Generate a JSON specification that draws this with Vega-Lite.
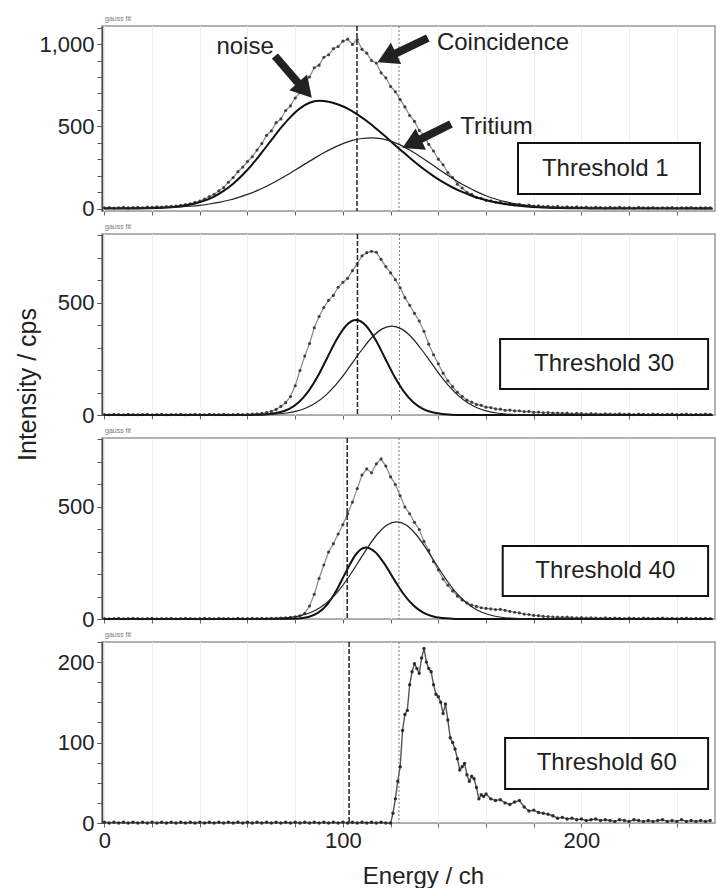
{
"$schema":"https://vega.github.io/schema/vega-lite/v6.json",
"padding":{"left":14,"top":14,"right":0,"bottom":2},
"bounds":"flush",
"spacing":23,
"config":{"font":"Liberation Sans","view":{"stroke":"#999","strokeWidth":1.5},
"axis":{"labelFontSize":22,"labelColor":"#222","tickColor":"#555","domainColor":"#444","titleFontWeight":"normal","titleColor":"#222","labelFlush":false,"labelOverlap":false},
"title":{"fontSize":7,"fontWeight":"normal","color":"#777","anchor":"start","frame":"group","offset":3,"dx":3}},
"datasets":{
"p1":[
{"s":"d","x":0,"y":4},{"s":"d","x":2,"y":6},{"s":"d","x":4,"y":3},{"s":"d","x":6,"y":5},{"s":"d","x":8,"y":7},{"s":"d","x":10,"y":4},{"s":"d","x":12,"y":6},{"s":"d","x":14,"y":8},{"s":"d","x":16,"y":5},{"s":"d","x":18,"y":9},{"s":"d","x":20,"y":7},{"s":"d","x":22,"y":10},{"s":"d","x":24,"y":9},{"s":"d","x":26,"y":12},{"s":"d","x":28,"y":14},{"s":"d","x":30,"y":15},{"s":"d","x":32,"y":19},{"s":"d","x":34,"y":24},{"s":"d","x":36,"y":29},{"s":"d","x":38,"y":37},{"s":"d","x":40,"y":46},{"s":"d","x":42,"y":57},{"s":"d","x":44,"y":73},{"s":"d","x":46,"y":87},{"s":"d","x":48,"y":108},{"s":"d","x":50,"y":127},{"s":"d","x":52,"y":160},{"s":"d","x":54,"y":188},{"s":"d","x":56,"y":224},{"s":"d","x":58,"y":252},{"s":"d","x":60,"y":286},{"s":"d","x":62,"y":315},{"s":"d","x":64,"y":356},{"s":"d","x":66,"y":395},{"s":"d","x":68,"y":445},{"s":"d","x":70,"y":472},{"s":"d","x":72,"y":522},{"s":"d","x":74,"y":545},{"s":"d","x":76,"y":596},{"s":"d","x":78,"y":624},{"s":"d","x":80,"y":672},{"s":"d","x":82,"y":705},{"s":"d","x":84,"y":768},{"s":"d","x":86,"y":800},{"s":"d","x":88,"y":856},{"s":"d","x":90,"y":872},{"s":"d","x":92,"y":920},{"s":"d","x":94,"y":935},{"s":"d","x":96,"y":972},{"s":"d","x":98,"y":985},{"s":"d","x":100,"y":1018},{"s":"d","x":102,"y":1030},{"s":"d","x":104,"y":998},{"s":"d","x":106,"y":1028},{"s":"d","x":108,"y":968},{"s":"d","x":110,"y":945},{"s":"d","x":112,"y":900},{"s":"d","x":114,"y":885},{"s":"d","x":116,"y":825},{"s":"d","x":118,"y":795},{"s":"d","x":120,"y":742},{"s":"d","x":122,"y":710},{"s":"d","x":124,"y":662},{"s":"d","x":126,"y":618},{"s":"d","x":128,"y":566},{"s":"d","x":130,"y":530},{"s":"d","x":132,"y":475},{"s":"d","x":134,"y":445},{"s":"d","x":136,"y":390},{"s":"d","x":138,"y":350},{"s":"d","x":140,"y":300},{"s":"d","x":142,"y":266},{"s":"d","x":144,"y":218},{"s":"d","x":146,"y":188},{"s":"d","x":148,"y":148},{"s":"d","x":150,"y":125},{"s":"d","x":152,"y":98},{"s":"d","x":154,"y":86},{"s":"d","x":156,"y":68},{"s":"d","x":158,"y":62},{"s":"d","x":160,"y":50},{"s":"d","x":162,"y":47},{"s":"d","x":164,"y":38},{"s":"d","x":166,"y":37},{"s":"d","x":168,"y":29},{"s":"d","x":170,"y":30},{"s":"d","x":172,"y":23},{"s":"d","x":174,"y":26},{"s":"d","x":176,"y":18},{"s":"d","x":178,"y":21},{"s":"d","x":180,"y":15},{"s":"d","x":182,"y":17},{"s":"d","x":184,"y":12},{"s":"d","x":186,"y":14},{"s":"d","x":188,"y":10},{"s":"d","x":190,"y":13},{"s":"d","x":192,"y":8},{"s":"d","x":194,"y":11},{"s":"d","x":196,"y":7},{"s":"d","x":198,"y":10},{"s":"d","x":200,"y":6},{"s":"d","x":202,"y":9},{"s":"d","x":204,"y":5},{"s":"d","x":206,"y":8},{"s":"d","x":208,"y":6},{"s":"d","x":210,"y":4},{"s":"d","x":212,"y":7},{"s":"d","x":214,"y":5},{"s":"d","x":216,"y":8},{"s":"d","x":218,"y":4},{"s":"d","x":220,"y":6},{"s":"d","x":222,"y":3},{"s":"d","x":224,"y":7},{"s":"d","x":226,"y":5},{"s":"d","x":228,"y":4},{"s":"d","x":230,"y":6},{"s":"d","x":232,"y":3},{"s":"d","x":234,"y":5},{"s":"d","x":236,"y":4},{"s":"d","x":238,"y":6},{"s":"d","x":240,"y":3},{"s":"d","x":242,"y":5},{"s":"d","x":244,"y":4},{"s":"d","x":246,"y":6},{"s":"d","x":248,"y":3},{"s":"d","x":250,"y":5},{"s":"d","x":252,"y":4},{"s":"d","x":254,"y":5},
{"s":"n","x":0,"y":0},{"s":"n","x":10,"y":0.5},{"s":"n","x":14,"y":0.9},{"s":"n","x":18,"y":1.8},{"s":"n","x":22,"y":3.5},{"s":"n","x":26,"y":6.3},{"s":"n","x":30,"y":11},{"s":"n","x":34,"y":18.7},{"s":"n","x":38,"y":30.5},{"s":"n","x":42,"y":48},{"s":"n","x":46,"y":73},{"s":"n","x":50,"y":107},{"s":"n","x":54,"y":151},{"s":"n","x":58,"y":205},{"s":"n","x":62,"y":269},{"s":"n","x":66,"y":341},{"s":"n","x":70,"y":416},{"s":"n","x":74,"y":490},{"s":"n","x":78,"y":556},{"s":"n","x":82,"y":609},{"s":"n","x":86,"y":643},{"s":"n","x":90,"y":655},{"s":"n","x":94,"y":650},{"s":"n","x":98,"y":633},{"s":"n","x":102,"y":608},{"s":"n","x":106,"y":573},{"s":"n","x":110,"y":532},{"s":"n","x":114,"y":485},{"s":"n","x":118,"y":436},{"s":"n","x":122,"y":384},{"s":"n","x":126,"y":334},{"s":"n","x":130,"y":285},{"s":"n","x":134,"y":239},{"s":"n","x":138,"y":197.5},{"s":"n","x":142,"y":160},{"s":"n","x":146,"y":128},{"s":"n","x":150,"y":101},{"s":"n","x":154,"y":78},{"s":"n","x":158,"y":59},{"s":"n","x":162,"y":44},{"s":"n","x":166,"y":32},{"s":"n","x":170,"y":23},{"s":"n","x":174,"y":16.5},{"s":"n","x":178,"y":11.5},{"s":"n","x":182,"y":8},{"s":"n","x":186,"y":5.3},{"s":"n","x":190,"y":3.6},{"s":"n","x":196,"y":2},{"s":"n","x":204,"y":0.8},{"s":"n","x":212,"y":0.3},{"s":"n","x":255,"y":0},
{"s":"t","x":0,"y":0.2},{"s":"t","x":8,"y":0.7},{"s":"t","x":16,"y":1.8},{"s":"t","x":20,"y":2.8},{"s":"t","x":24,"y":4.3},{"s":"t","x":28,"y":6.5},{"s":"t","x":32,"y":9.6},{"s":"t","x":36,"y":13.9},{"s":"t","x":40,"y":19.7},{"s":"t","x":44,"y":27.5},{"s":"t","x":48,"y":37.7},{"s":"t","x":52,"y":50.6},{"s":"t","x":56,"y":66.7},{"s":"t","x":60,"y":86},{"s":"t","x":64,"y":109},{"s":"t","x":68,"y":136},{"s":"t","x":72,"y":166},{"s":"t","x":76,"y":199},{"s":"t","x":80,"y":234},{"s":"t","x":84,"y":270},{"s":"t","x":88,"y":305},{"s":"t","x":92,"y":339},{"s":"t","x":96,"y":369},{"s":"t","x":100,"y":395},{"s":"t","x":104,"y":414},{"s":"t","x":108,"y":426},{"s":"t","x":112,"y":430},{"s":"t","x":116,"y":425},{"s":"t","x":120,"y":410},{"s":"t","x":124,"y":387},{"s":"t","x":128,"y":356},{"s":"t","x":132,"y":320},{"s":"t","x":136,"y":281},{"s":"t","x":140,"y":241},{"s":"t","x":144,"y":202},{"s":"t","x":148,"y":165},{"s":"t","x":152,"y":132},{"s":"t","x":156,"y":103},{"s":"t","x":160,"y":78},{"s":"t","x":164,"y":58},{"s":"t","x":168,"y":42},{"s":"t","x":172,"y":30},{"s":"t","x":176,"y":21},{"s":"t","x":180,"y":14},{"s":"t","x":186,"y":7.5},{"s":"t","x":192,"y":3.8},{"s":"t","x":200,"y":1.4},{"s":"t","x":210,"y":0.3},{"s":"t","x":255,"y":0}
],
"p2":[
{"s":"d","x":0,"y":2},{"s":"d","x":2,"y":1},{"s":"d","x":4,"y":3},{"s":"d","x":6,"y":2},{"s":"d","x":8,"y":1},{"s":"d","x":10,"y":3},{"s":"d","x":12,"y":2},{"s":"d","x":14,"y":1},{"s":"d","x":16,"y":2},{"s":"d","x":18,"y":3},{"s":"d","x":20,"y":1},{"s":"d","x":22,"y":2},{"s":"d","x":24,"y":3},{"s":"d","x":26,"y":1},{"s":"d","x":28,"y":2},{"s":"d","x":30,"y":2},{"s":"d","x":32,"y":3},{"s":"d","x":34,"y":1},{"s":"d","x":36,"y":2},{"s":"d","x":38,"y":3},{"s":"d","x":40,"y":2},{"s":"d","x":42,"y":1},{"s":"d","x":44,"y":3},{"s":"d","x":46,"y":2},{"s":"d","x":48,"y":2},{"s":"d","x":50,"y":3},{"s":"d","x":52,"y":1},{"s":"d","x":54,"y":2},{"s":"d","x":56,"y":3},{"s":"d","x":58,"y":2},{"s":"d","x":60,"y":3},{"s":"d","x":62,"y":4},{"s":"d","x":64,"y":5},{"s":"d","x":66,"y":7},{"s":"d","x":68,"y":11},{"s":"d","x":70,"y":16},{"s":"d","x":72,"y":25},{"s":"d","x":74,"y":38},{"s":"d","x":76,"y":55},{"s":"d","x":78,"y":82},{"s":"d","x":80,"y":130},{"s":"d","x":82,"y":198},{"s":"d","x":84,"y":262},{"s":"d","x":86,"y":318},{"s":"d","x":88,"y":388},{"s":"d","x":90,"y":438},{"s":"d","x":92,"y":478},{"s":"d","x":94,"y":510},{"s":"d","x":96,"y":532},{"s":"d","x":98,"y":568},{"s":"d","x":100,"y":590},{"s":"d","x":102,"y":608},{"s":"d","x":104,"y":642},{"s":"d","x":106,"y":672},{"s":"d","x":108,"y":708},{"s":"d","x":110,"y":722},{"s":"d","x":112,"y":728},{"s":"d","x":114,"y":724},{"s":"d","x":116,"y":692},{"s":"d","x":118,"y":660},{"s":"d","x":120,"y":632},{"s":"d","x":122,"y":602},{"s":"d","x":124,"y":566},{"s":"d","x":126,"y":522},{"s":"d","x":128,"y":488},{"s":"d","x":130,"y":452},{"s":"d","x":132,"y":418},{"s":"d","x":134,"y":372},{"s":"d","x":136,"y":315},{"s":"d","x":138,"y":268},{"s":"d","x":140,"y":228},{"s":"d","x":142,"y":186},{"s":"d","x":144,"y":152},{"s":"d","x":146,"y":126},{"s":"d","x":148,"y":101},{"s":"d","x":150,"y":83},{"s":"d","x":152,"y":66},{"s":"d","x":154,"y":57},{"s":"d","x":156,"y":47},{"s":"d","x":158,"y":43},{"s":"d","x":160,"y":35},{"s":"d","x":162,"y":33},{"s":"d","x":164,"y":27},{"s":"d","x":166,"y":26},{"s":"d","x":168,"y":21},{"s":"d","x":170,"y":22},{"s":"d","x":172,"y":18},{"s":"d","x":174,"y":19},{"s":"d","x":176,"y":15},{"s":"d","x":178,"y":16},{"s":"d","x":180,"y":12},{"s":"d","x":182,"y":13},{"s":"d","x":184,"y":10},{"s":"d","x":186,"y":11},{"s":"d","x":188,"y":8},{"s":"d","x":190,"y":9},{"s":"d","x":192,"y":7},{"s":"d","x":194,"y":8},{"s":"d","x":196,"y":5},{"s":"d","x":198,"y":7},{"s":"d","x":200,"y":6},{"s":"d","x":202,"y":4},{"s":"d","x":204,"y":6},{"s":"d","x":206,"y":5},{"s":"d","x":208,"y":3},{"s":"d","x":210,"y":5},{"s":"d","x":212,"y":4},{"s":"d","x":214,"y":3},{"s":"d","x":216,"y":5},{"s":"d","x":218,"y":3},{"s":"d","x":220,"y":4},{"s":"d","x":222,"y":2},{"s":"d","x":224,"y":4},{"s":"d","x":226,"y":3},{"s":"d","x":228,"y":2},{"s":"d","x":230,"y":4},{"s":"d","x":232,"y":3},{"s":"d","x":234,"y":2},{"s":"d","x":236,"y":3},{"s":"d","x":238,"y":4},{"s":"d","x":240,"y":2},{"s":"d","x":242,"y":3},{"s":"d","x":244,"y":4},{"s":"d","x":246,"y":2},{"s":"d","x":248,"y":3},{"s":"d","x":250,"y":2},{"s":"d","x":252,"y":4},{"s":"d","x":254,"y":3},
{"s":"n","x":0,"y":0},{"s":"n","x":61.5,"y":0.5},{"s":"n","x":65.5,"y":1.6},{"s":"n","x":69.5,"y":4.7},{"s":"n","x":73.5,"y":12},{"s":"n","x":77.5,"y":27.7},{"s":"n","x":81.5,"y":57},{"s":"n","x":85.5,"y":105},{"s":"n","x":89.5,"y":173},{"s":"n","x":93.5,"y":256},{"s":"n","x":97.5,"y":338},{"s":"n","x":101.5,"y":399},{"s":"n","x":105.5,"y":422},{"s":"n","x":109.5,"y":399},{"s":"n","x":113.5,"y":338},{"s":"n","x":117.5,"y":256},{"s":"n","x":121.5,"y":173},{"s":"n","x":125.5,"y":105},{"s":"n","x":129.5,"y":57},{"s":"n","x":133.5,"y":27.7},{"s":"n","x":137.5,"y":12},{"s":"n","x":141.5,"y":4.7},{"s":"n","x":145.5,"y":1.6},{"s":"n","x":149.5,"y":0.5},{"s":"n","x":255,"y":0},
{"s":"t","x":0,"y":0},{"s":"t","x":64.5,"y":0.9},{"s":"t","x":68.5,"y":2},{"s":"t","x":72.5,"y":4.4},{"s":"t","x":76.5,"y":9},{"s":"t","x":80.5,"y":17},{"s":"t","x":84.5,"y":31},{"s":"t","x":88.5,"y":53},{"s":"t","x":92.5,"y":85},{"s":"t","x":96.5,"y":128},{"s":"t","x":100.5,"y":181},{"s":"t","x":104.5,"y":240},{"s":"t","x":108.5,"y":298},{"s":"t","x":112.5,"y":349},{"s":"t","x":116.5,"y":383},{"s":"t","x":120.5,"y":395},{"s":"t","x":124.5,"y":383},{"s":"t","x":128.5,"y":349},{"s":"t","x":132.5,"y":298},{"s":"t","x":136.5,"y":240},{"s":"t","x":140.5,"y":181},{"s":"t","x":144.5,"y":128},{"s":"t","x":148.5,"y":85},{"s":"t","x":152.5,"y":53},{"s":"t","x":156.5,"y":31},{"s":"t","x":160.5,"y":17},{"s":"t","x":164.5,"y":9},{"s":"t","x":168.5,"y":4.4},{"s":"t","x":172.5,"y":2},{"s":"t","x":176.5,"y":0.9},{"s":"t","x":255,"y":0}
],
"p3":[
{"s":"d","x":0,"y":2},{"s":"d","x":2,"y":1},{"s":"d","x":4,"y":2},{"s":"d","x":6,"y":3},{"s":"d","x":8,"y":1},{"s":"d","x":10,"y":2},{"s":"d","x":12,"y":3},{"s":"d","x":14,"y":2},{"s":"d","x":16,"y":1},{"s":"d","x":18,"y":2},{"s":"d","x":20,"y":3},{"s":"d","x":22,"y":1},{"s":"d","x":24,"y":2},{"s":"d","x":26,"y":2},{"s":"d","x":28,"y":3},{"s":"d","x":30,"y":1},{"s":"d","x":32,"y":2},{"s":"d","x":34,"y":3},{"s":"d","x":36,"y":2},{"s":"d","x":38,"y":1},{"s":"d","x":40,"y":2},{"s":"d","x":42,"y":3},{"s":"d","x":44,"y":2},{"s":"d","x":46,"y":1},{"s":"d","x":48,"y":3},{"s":"d","x":50,"y":2},{"s":"d","x":52,"y":2},{"s":"d","x":54,"y":1},{"s":"d","x":56,"y":3},{"s":"d","x":58,"y":2},{"s":"d","x":60,"y":2},{"s":"d","x":62,"y":3},{"s":"d","x":64,"y":2},{"s":"d","x":66,"y":3},{"s":"d","x":68,"y":2},{"s":"d","x":70,"y":3},{"s":"d","x":72,"y":3},{"s":"d","x":74,"y":4},{"s":"d","x":76,"y":5},{"s":"d","x":78,"y":7},{"s":"d","x":80,"y":10},{"s":"d","x":82,"y":14},{"s":"d","x":84,"y":25},{"s":"d","x":86,"y":58},{"s":"d","x":88,"y":110},{"s":"d","x":90,"y":180},{"s":"d","x":92,"y":240},{"s":"d","x":94,"y":298},{"s":"d","x":96,"y":335},{"s":"d","x":98,"y":378},{"s":"d","x":100,"y":420},{"s":"d","x":102,"y":468},{"s":"d","x":104,"y":520},{"s":"d","x":106,"y":580},{"s":"d","x":108,"y":640},{"s":"d","x":110,"y":668},{"s":"d","x":112,"y":650},{"s":"d","x":114,"y":690},{"s":"d","x":116,"y":712},{"s":"d","x":118,"y":680},{"s":"d","x":120,"y":632},{"s":"d","x":122,"y":598},{"s":"d","x":124,"y":548},{"s":"d","x":126,"y":498},{"s":"d","x":128,"y":468},{"s":"d","x":130,"y":430},{"s":"d","x":132,"y":398},{"s":"d","x":134,"y":345},{"s":"d","x":136,"y":305},{"s":"d","x":138,"y":255},{"s":"d","x":140,"y":218},{"s":"d","x":142,"y":178},{"s":"d","x":144,"y":150},{"s":"d","x":146,"y":125},{"s":"d","x":148,"y":102},{"s":"d","x":150,"y":84},{"s":"d","x":152,"y":72},{"s":"d","x":154,"y":62},{"s":"d","x":156,"y":56},{"s":"d","x":158,"y":50},{"s":"d","x":160,"y":47},{"s":"d","x":162,"y":45},{"s":"d","x":164,"y":42},{"s":"d","x":166,"y":43},{"s":"d","x":168,"y":38},{"s":"d","x":170,"y":34},{"s":"d","x":172,"y":30},{"s":"d","x":174,"y":27},{"s":"d","x":176,"y":22},{"s":"d","x":178,"y":20},{"s":"d","x":180,"y":16},{"s":"d","x":182,"y":15},{"s":"d","x":184,"y":12},{"s":"d","x":186,"y":11},{"s":"d","x":188,"y":9},{"s":"d","x":190,"y":8},{"s":"d","x":192,"y":7},{"s":"d","x":194,"y":8},{"s":"d","x":196,"y":6},{"s":"d","x":198,"y":5},{"s":"d","x":200,"y":6},{"s":"d","x":202,"y":4},{"s":"d","x":204,"y":5},{"s":"d","x":206,"y":4},{"s":"d","x":208,"y":3},{"s":"d","x":210,"y":5},{"s":"d","x":212,"y":3},{"s":"d","x":214,"y":4},{"s":"d","x":216,"y":3},{"s":"d","x":218,"y":2},{"s":"d","x":220,"y":4},{"s":"d","x":222,"y":3},{"s":"d","x":224,"y":2},{"s":"d","x":226,"y":4},{"s":"d","x":228,"y":3},{"s":"d","x":230,"y":2},{"s":"d","x":232,"y":3},{"s":"d","x":234,"y":4},{"s":"d","x":236,"y":2},{"s":"d","x":238,"y":3},{"s":"d","x":240,"y":2},{"s":"d","x":242,"y":3},{"s":"d","x":244,"y":4},{"s":"d","x":246,"y":2},{"s":"d","x":248,"y":3},{"s":"d","x":250,"y":2},{"s":"d","x":252,"y":3},{"s":"d","x":254,"y":2},
{"s":"n","x":0,"y":0},{"s":"n","x":77.5,"y":0.6},{"s":"n","x":81.5,"y":2.5},{"s":"n","x":85.5,"y":9.1},{"s":"n","x":89.5,"y":27},{"s":"n","x":93.5,"y":65.5},{"s":"n","x":97.5,"y":131},{"s":"n","x":101.5,"y":214},{"s":"n","x":105.5,"y":288},{"s":"n","x":109.5,"y":318},{"s":"n","x":113.5,"y":298},{"s":"n","x":117.5,"y":244},{"s":"n","x":121.5,"y":175},{"s":"n","x":125.5,"y":110},{"s":"n","x":129.5,"y":61},{"s":"n","x":133.5,"y":29.5},{"s":"n","x":137.5,"y":12.5},{"s":"n","x":141.5,"y":4.6},{"s":"n","x":145.5,"y":1.5},{"s":"n","x":149.5,"y":0.4},{"s":"n","x":255,"y":0},
{"s":"t","x":0,"y":0},{"s":"t","x":66.5,"y":0.6},{"s":"t","x":70.5,"y":1.6},{"s":"t","x":74.5,"y":3.6},{"s":"t","x":78.5,"y":7.7},{"s":"t","x":82.5,"y":15.5},{"s":"t","x":86.5,"y":29},{"s":"t","x":90.5,"y":51},{"s":"t","x":94.5,"y":84.5},{"s":"t","x":98.5,"y":130},{"s":"t","x":102.5,"y":188},{"s":"t","x":106.5,"y":253.5},{"s":"t","x":110.5,"y":320},{"s":"t","x":114.5,"y":378},{"s":"t","x":118.5,"y":418},{"s":"t","x":122.5,"y":432},{"s":"t","x":126.5,"y":418},{"s":"t","x":130.5,"y":378},{"s":"t","x":134.5,"y":320},{"s":"t","x":138.5,"y":253.5},{"s":"t","x":142.5,"y":188},{"s":"t","x":146.5,"y":130},{"s":"t","x":150.5,"y":84.5},{"s":"t","x":154.5,"y":51},{"s":"t","x":158.5,"y":29},{"s":"t","x":162.5,"y":15.5},{"s":"t","x":166.5,"y":7.7},{"s":"t","x":170.5,"y":3.6},{"s":"t","x":174.5,"y":1.6},{"s":"t","x":178.5,"y":0.6},{"s":"t","x":255,"y":0}
],
"p4":[
{"s":"d","x":0,"y":1},{"s":"d","x":2,"y":0},{"s":"d","x":4,"y":1},{"s":"d","x":6,"y":0},{"s":"d","x":8,"y":1},{"s":"d","x":10,"y":0},{"s":"d","x":12,"y":1},{"s":"d","x":14,"y":0},{"s":"d","x":16,"y":1},{"s":"d","x":18,"y":0},{"s":"d","x":20,"y":1},{"s":"d","x":22,"y":0},{"s":"d","x":24,"y":1},{"s":"d","x":26,"y":0},{"s":"d","x":28,"y":1},{"s":"d","x":30,"y":0},{"s":"d","x":32,"y":1},{"s":"d","x":34,"y":0},{"s":"d","x":36,"y":1},{"s":"d","x":38,"y":0},{"s":"d","x":40,"y":1},{"s":"d","x":42,"y":0},{"s":"d","x":44,"y":1},{"s":"d","x":46,"y":0},{"s":"d","x":48,"y":1},{"s":"d","x":50,"y":0},{"s":"d","x":52,"y":1},{"s":"d","x":54,"y":0},{"s":"d","x":56,"y":1},{"s":"d","x":58,"y":0},{"s":"d","x":60,"y":1},{"s":"d","x":62,"y":0},{"s":"d","x":64,"y":1},{"s":"d","x":66,"y":0},{"s":"d","x":68,"y":1},{"s":"d","x":70,"y":0},{"s":"d","x":72,"y":1},{"s":"d","x":74,"y":0},{"s":"d","x":76,"y":1},{"s":"d","x":78,"y":0},{"s":"d","x":80,"y":1},{"s":"d","x":82,"y":0},{"s":"d","x":84,"y":1},{"s":"d","x":86,"y":0},{"s":"d","x":88,"y":1},{"s":"d","x":90,"y":0},{"s":"d","x":92,"y":1},{"s":"d","x":94,"y":0},{"s":"d","x":96,"y":1},{"s":"d","x":98,"y":0},{"s":"d","x":100,"y":1},{"s":"d","x":102,"y":0},{"s":"d","x":104,"y":1},{"s":"d","x":106,"y":0},{"s":"d","x":108,"y":1},{"s":"d","x":110,"y":0},{"s":"d","x":112,"y":1},{"s":"d","x":114,"y":0},{"s":"d","x":116,"y":1},{"s":"d","x":118,"y":0},{"s":"d","x":120,"y":0},{"s":"d","x":121,"y":12},{"s":"d","x":122,"y":30},{"s":"d","x":123,"y":52},{"s":"d","x":124,"y":70},{"s":"d","x":125,"y":115},{"s":"d","x":126,"y":135},{"s":"d","x":127,"y":140},{"s":"d","x":128,"y":172},{"s":"d","x":129,"y":188},{"s":"d","x":130,"y":198},{"s":"d","x":131,"y":192},{"s":"d","x":132,"y":186},{"s":"d","x":133,"y":205},{"s":"d","x":134,"y":217},{"s":"d","x":135,"y":200},{"s":"d","x":136,"y":192},{"s":"d","x":137,"y":188},{"s":"d","x":138,"y":172},{"s":"d","x":139,"y":160},{"s":"d","x":140,"y":157},{"s":"d","x":141,"y":150},{"s":"d","x":142,"y":136},{"s":"d","x":143,"y":148},{"s":"d","x":144,"y":128},{"s":"d","x":145,"y":106},{"s":"d","x":146,"y":100},{"s":"d","x":147,"y":92},{"s":"d","x":148,"y":80},{"s":"d","x":149,"y":66},{"s":"d","x":150,"y":70},{"s":"d","x":151,"y":74},{"s":"d","x":152,"y":60},{"s":"d","x":153,"y":52},{"s":"d","x":154,"y":58},{"s":"d","x":155,"y":55},{"s":"d","x":156,"y":44},{"s":"d","x":157,"y":30},{"s":"d","x":158,"y":35},{"s":"d","x":159,"y":33},{"s":"d","x":160,"y":36},{"s":"d","x":162,"y":30},{"s":"d","x":164,"y":28},{"s":"d","x":166,"y":29},{"s":"d","x":168,"y":25},{"s":"d","x":170,"y":23},{"s":"d","x":172,"y":26},{"s":"d","x":174,"y":28},{"s":"d","x":176,"y":20},{"s":"d","x":178,"y":15},{"s":"d","x":180,"y":16},{"s":"d","x":182,"y":13},{"s":"d","x":184,"y":12},{"s":"d","x":186,"y":11},{"s":"d","x":188,"y":9},{"s":"d","x":190,"y":6},{"s":"d","x":192,"y":7},{"s":"d","x":194,"y":5},{"s":"d","x":196,"y":6},{"s":"d","x":198,"y":4},{"s":"d","x":200,"y":5},{"s":"d","x":202,"y":3},{"s":"d","x":204,"y":4},{"s":"d","x":206,"y":5},{"s":"d","x":208,"y":3},{"s":"d","x":210,"y":4},{"s":"d","x":212,"y":3},{"s":"d","x":214,"y":2},{"s":"d","x":216,"y":4},{"s":"d","x":218,"y":3},{"s":"d","x":220,"y":2},{"s":"d","x":222,"y":4},{"s":"d","x":224,"y":3},{"s":"d","x":226,"y":2},{"s":"d","x":228,"y":3},{"s":"d","x":230,"y":2},{"s":"d","x":232,"y":3},{"s":"d","x":234,"y":4},{"s":"d","x":236,"y":2},{"s":"d","x":238,"y":3},{"s":"d","x":240,"y":2},{"s":"d","x":242,"y":4},{"s":"d","x":244,"y":2},{"s":"d","x":246,"y":3},{"s":"d","x":248,"y":2},{"s":"d","x":250,"y":3},{"s":"d","x":252,"y":2},{"s":"d","x":254,"y":3}
],
"vlines":[
{"panel":1,"x":105.9,"line":"A"},{"panel":1,"x":123.5,"line":"B"},
{"panel":2,"x":106.1,"line":"A"},{"panel":2,"x":123.7,"line":"B"},
{"panel":3,"x":101.8,"line":"A"},{"panel":3,"x":123.5,"line":"B"},
{"panel":4,"x":102.6,"line":"A"},{"panel":4,"x":123.5,"line":"B"}
],
"boxes":[
{"panel":1,"label":"Threshold 1","x1":173.4,"x2":249.7,"y1":398,"y2":88,"xc":210,"yc":243},
{"panel":2,"label":"Threshold 30","x1":165.9,"x2":253.1,"y1":338,"y2":116,"xc":209.5,"yc":227},
{"panel":3,"label":"Threshold 40","x1":167,"x2":253.1,"y1":325,"y2":102,"xc":210,"yc":213},
{"panel":4,"label":"Threshold 60","x1":168,"x2":253.1,"y1":105.7,"y2":42.3,"xc":210.6,"yc":74}
],
"notes":[
{"label":"noise","x":59,"y":940},
{"label":"Coincidence","x":167.1,"y":964},
{"label":"Tritium","x":164.4,"y":453}
],
"arrows":[
{"name":"noise","x":71.5,"y":927.6,"x2":82.4,"y2":745,"hx":84.1,"hy":720.8},
{"name":"Coincidence","x":135.6,"y":1037,"x2":120.7,"y2":932.4,"hx":118.4,"hy":916.6},
{"name":"Tritium","x":145.3,"y":514,"x2":131.1,"y2":411.3,"hx":128.8,"hy":395}
]
},
"vconcat":[
{
"width":613,"height":185,
"title":"gauss fit",
"resolve":{"axis":{"y":"independent"}},
"layer":[
{"data":{"name":"p1"},"transform":[{"filter":"datum.s == 'd'"}],
 "mark":{"type":"line","color":"#888","strokeWidth":1.2},
 "encoding":{
  "x":{"field":"x","type":"quantitative","scale":{"domain":[-1,256],"nice":false,"zero":false},
       "axis":{"values":[0,20,40,60,80,100,120,140,160,180,200,220,240],"labels":false,"title":null,"grid":true,"gridColor":"#efefef","tickSize":4,"tickColor":"#666","domainColor":"#aaa"}},
  "y":{"field":"y","type":"quantitative","scale":{"domain":[-15,1110],"nice":false,"zero":false},
       "axis":{"orient":"left","values":[0,500,1000],"format":",d","title":null,"grid":false,"tickSize":5,"labelPadding":3,"domainWidth":1.5}}}},
{"data":{"name":"vlines"},"transform":[{"filter":"datum.panel == 1 && datum.line == 'A'"}],
 "mark":{"type":"rule","color":"#222","strokeWidth":1.5,"strokeDash":[5,2]},
 "encoding":{"x":{"field":"x","type":"quantitative"}}},
{"data":{"name":"vlines"},"transform":[{"filter":"datum.panel == 1 && datum.line == 'B'"}],
 "mark":{"type":"rule","color":"#777","strokeWidth":1,"strokeDash":[2,2]},
 "encoding":{"x":{"field":"x","type":"quantitative"}}},
{"data":{"name":"p1"},"transform":[{"filter":"datum.s == 'd'"}],
 "mark":{"type":"point","shape":"circle","filled":true,"size":10,"color":"#333","opacity":0.9},
 "encoding":{"x":{"field":"x","type":"quantitative"},"y":{"field":"y","type":"quantitative","axis":null}}},
{"data":{"name":"p1"},"transform":[{"filter":"datum.s == 'n'"}],
 "mark":{"type":"line","color":"#111","strokeWidth":2,"interpolate":"monotone"},
 "encoding":{"x":{"field":"x","type":"quantitative"},"y":{"field":"y","type":"quantitative","axis":{"orient":"left","values":[0,100,200,300,400,500,600,700,800,900,1000,1100],"labels":false,"domain":false,"title":null,"grid":false,"tickSize":5}}}},
{"data":{"name":"p1"},"transform":[{"filter":"datum.s == 't'"}],
 "mark":{"type":"line","color":"#222","strokeWidth":1.2,"interpolate":"monotone"},
 "encoding":{"x":{"field":"x","type":"quantitative"},"y":{"field":"y","type":"quantitative","axis":null}}},
{"data":{"name":"boxes"},"transform":[{"filter":"datum.panel == 1"}],
 "mark":{"type":"rect","fill":"white","stroke":"#111","strokeWidth":2},
 "encoding":{"x":{"field":"x1","type":"quantitative"},"x2":{"field":"x2"},"y":{"field":"y1","type":"quantitative","axis":null},"y2":{"field":"y2"}}},
{"data":{"name":"boxes"},"transform":[{"filter":"datum.panel == 1"}],
 "mark":{"type":"text","fontSize":24,"align":"center","baseline":"middle","color":"#222"},
 "encoding":{"x":{"field":"xc","type":"quantitative"},"y":{"field":"yc","type":"quantitative","axis":null},"text":{"field":"label"}}},
{"data":{"name":"notes"},
 "mark":{"type":"text","fontSize":24,"align":"center","baseline":"alphabetic","color":"#222"},
 "encoding":{"x":{"field":"x","type":"quantitative"},"y":{"field":"y","type":"quantitative","axis":null},"text":{"field":"label"}}},
{"data":{"name":"arrows"},
 "mark":{"type":"rule","color":"#222","strokeWidth":8,"strokeCap":"butt"},
 "encoding":{"x":{"field":"x","type":"quantitative"},"y":{"field":"y","type":"quantitative","axis":null},"x2":{"field":"x2"},"y2":{"field":"y2"}}},
{"data":{"name":"arrows"},"transform":[{"filter":"datum.name == 'noise'"}],
 "mark":{"type":"point","shape":"triangle-up","filled":true,"size":560,"color":"#222","opacity":1,"angle":138.5},
 "encoding":{"x":{"field":"hx","type":"quantitative"},"y":{"field":"hy","type":"quantitative","axis":null}}},
{"data":{"name":"arrows"},"transform":[{"filter":"datum.name != 'noise'"}],
 "mark":{"type":"point","shape":"triangle-up","filled":true,"size":560,"color":"#222","opacity":1,"angle":244},
 "encoding":{"x":{"field":"hx","type":"quantitative"},"y":{"field":"hy","type":"quantitative","axis":null}}}
]
},
{
"width":613,"height":181,
"title":"gauss fit",
"resolve":{"axis":{"y":"independent"}},
"layer":[
{"data":{"name":"p2"},"transform":[{"filter":"datum.s == 'd'"}],
 "mark":{"type":"line","color":"#888","strokeWidth":1.2},
 "encoding":{
  "x":{"field":"x","type":"quantitative","scale":{"domain":[-1,256],"nice":false,"zero":false},
       "axis":{"values":[0,20,40,60,80,100,120,140,160,180,200,220,240],"labels":false,"title":null,"grid":true,"gridColor":"#efefef","tickSize":4,"tickColor":"#666","domainColor":"#aaa"}},
  "y":{"field":"y","type":"quantitative","scale":{"domain":[0,805],"nice":false,"zero":false},
       "axis":{"orient":"left","values":[0,500],"title":"Intensity / cps","titleX":-67,"titleY":150,"titleAngle":-90,"titleAlign":"center","titleBaseline":"alphabetic","titleFontSize":25,"grid":false,"tickSize":5,"labelPadding":3,"domainWidth":1.5}}}},
{"data":{"name":"vlines"},"transform":[{"filter":"datum.panel == 2 && datum.line == 'A'"}],
 "mark":{"type":"rule","color":"#222","strokeWidth":1.5,"strokeDash":[5,2]},
 "encoding":{"x":{"field":"x","type":"quantitative"}}},
{"data":{"name":"vlines"},"transform":[{"filter":"datum.panel == 2 && datum.line == 'B'"}],
 "mark":{"type":"rule","color":"#777","strokeWidth":1,"strokeDash":[2,2]},
 "encoding":{"x":{"field":"x","type":"quantitative"}}},
{"data":{"name":"p2"},"transform":[{"filter":"datum.s == 'd'"}],
 "mark":{"type":"point","shape":"circle","filled":true,"size":10,"color":"#333","opacity":0.9},
 "encoding":{"x":{"field":"x","type":"quantitative"},"y":{"field":"y","type":"quantitative","axis":null}}},
{"data":{"name":"p2"},"transform":[{"filter":"datum.s == 'n'"}],
 "mark":{"type":"line","color":"#111","strokeWidth":2,"interpolate":"monotone"},
 "encoding":{"x":{"field":"x","type":"quantitative"},"y":{"field":"y","type":"quantitative","axis":{"orient":"left","values":[0,100,200,300,400,500,600,700,800],"labels":false,"domain":false,"title":null,"grid":false,"tickSize":5}}}},
{"data":{"name":"p2"},"transform":[{"filter":"datum.s == 't'"}],
 "mark":{"type":"line","color":"#222","strokeWidth":1.2,"interpolate":"monotone"},
 "encoding":{"x":{"field":"x","type":"quantitative"},"y":{"field":"y","type":"quantitative","axis":null}}},
{"data":{"name":"boxes"},"transform":[{"filter":"datum.panel == 2"}],
 "mark":{"type":"rect","fill":"white","stroke":"#111","strokeWidth":2},
 "encoding":{"x":{"field":"x1","type":"quantitative"},"x2":{"field":"x2"},"y":{"field":"y1","type":"quantitative","axis":null},"y2":{"field":"y2"}}},
{"data":{"name":"boxes"},"transform":[{"filter":"datum.panel == 2"}],
 "mark":{"type":"text","fontSize":24,"align":"center","baseline":"middle","color":"#222"},
 "encoding":{"x":{"field":"xc","type":"quantitative"},"y":{"field":"yc","type":"quantitative","axis":null},"text":{"field":"label"}}}
]
},
{
"width":613,"height":181,
"title":"gauss fit",
"resolve":{"axis":{"y":"independent"}},
"layer":[
{"data":{"name":"p3"},"transform":[{"filter":"datum.s == 'd'"}],
 "mark":{"type":"line","color":"#888","strokeWidth":1.2},
 "encoding":{
  "x":{"field":"x","type":"quantitative","scale":{"domain":[-1,256],"nice":false,"zero":false},
       "axis":{"values":[0,20,40,60,80,100,120,140,160,180,200,220,240],"labels":false,"title":null,"grid":true,"gridColor":"#efefef","tickSize":4,"tickColor":"#666","domainColor":"#aaa"}},
  "y":{"field":"y","type":"quantitative","scale":{"domain":[0,805],"nice":false,"zero":false},
       "axis":{"orient":"left","values":[0,500],"title":null,"grid":false,"tickSize":5,"labelPadding":3,"domainWidth":1.5}}}},
{"data":{"name":"vlines"},"transform":[{"filter":"datum.panel == 3 && datum.line == 'A'"}],
 "mark":{"type":"rule","color":"#222","strokeWidth":1.5,"strokeDash":[5,2]},
 "encoding":{"x":{"field":"x","type":"quantitative"}}},
{"data":{"name":"vlines"},"transform":[{"filter":"datum.panel == 3 && datum.line == 'B'"}],
 "mark":{"type":"rule","color":"#777","strokeWidth":1,"strokeDash":[2,2]},
 "encoding":{"x":{"field":"x","type":"quantitative"}}},
{"data":{"name":"p3"},"transform":[{"filter":"datum.s == 'd'"}],
 "mark":{"type":"point","shape":"circle","filled":true,"size":10,"color":"#333","opacity":0.9},
 "encoding":{"x":{"field":"x","type":"quantitative"},"y":{"field":"y","type":"quantitative","axis":null}}},
{"data":{"name":"p3"},"transform":[{"filter":"datum.s == 'n'"}],
 "mark":{"type":"line","color":"#111","strokeWidth":2,"interpolate":"monotone"},
 "encoding":{"x":{"field":"x","type":"quantitative"},"y":{"field":"y","type":"quantitative","axis":{"orient":"left","values":[0,100,200,300,400,500,600,700,800],"labels":false,"domain":false,"title":null,"grid":false,"tickSize":5}}}},
{"data":{"name":"p3"},"transform":[{"filter":"datum.s == 't'"}],
 "mark":{"type":"line","color":"#222","strokeWidth":1.2,"interpolate":"monotone"},
 "encoding":{"x":{"field":"x","type":"quantitative"},"y":{"field":"y","type":"quantitative","axis":null}}},
{"data":{"name":"boxes"},"transform":[{"filter":"datum.panel == 3"}],
 "mark":{"type":"rect","fill":"white","stroke":"#111","strokeWidth":2},
 "encoding":{"x":{"field":"x1","type":"quantitative"},"x2":{"field":"x2"},"y":{"field":"y1","type":"quantitative","axis":null},"y2":{"field":"y2"}}},
{"data":{"name":"boxes"},"transform":[{"filter":"datum.panel == 3"}],
 "mark":{"type":"text","fontSize":24,"align":"center","baseline":"middle","color":"#222"},
 "encoding":{"x":{"field":"xc","type":"quantitative"},"y":{"field":"yc","type":"quantitative","axis":null},"text":{"field":"label"}}}
]
},
{
"width":613,"height":181,
"title":"gauss fit",
"resolve":{"axis":{"y":"independent"}},
"layer":[
{"data":{"name":"p4"},"transform":[{"filter":"datum.s == 'd'"}],
 "mark":{"type":"line","color":"#555","strokeWidth":1.4},
 "encoding":{
  "x":{"field":"x","type":"quantitative","scale":{"domain":[-1,256],"nice":false,"zero":false},
       "axis":{"values":[0,20,40,60,80,100,120,140,160,180,200,220,240],"labelExpr":"datum.value % 100 === 0 ? datum.label : ''","labelPadding":3,"title":"Energy / ch","titleX":321,"titleY":60,"titleAlign":"center","titleBaseline":"alphabetic","titleFontSize":24,"grid":true,"gridColor":"#efefef","tickSize":4,"tickColor":"#666","domainColor":"#aaa"}},
  "y":{"field":"y","type":"quantitative","scale":{"domain":[0,225],"nice":false,"zero":false},
       "axis":{"orient":"left","values":[0,100,200],"title":null,"grid":false,"tickSize":5,"labelPadding":3,"domainWidth":1.5}}}},
{"data":{"name":"vlines"},"transform":[{"filter":"datum.panel == 4 && datum.line == 'A'"}],
 "mark":{"type":"rule","color":"#222","strokeWidth":1.5,"strokeDash":[5,2]},
 "encoding":{"x":{"field":"x","type":"quantitative"}}},
{"data":{"name":"vlines"},"transform":[{"filter":"datum.panel == 4 && datum.line == 'B'"}],
 "mark":{"type":"rule","color":"#777","strokeWidth":1,"strokeDash":[2,2]},
 "encoding":{"x":{"field":"x","type":"quantitative"}}},
{"data":{"name":"p4"},"transform":[{"filter":"datum.s == 'd'"}],
 "mark":{"type":"point","shape":"circle","filled":true,"size":12,"color":"#222","opacity":0.9},
 "encoding":{"x":{"field":"x","type":"quantitative"},"y":{"field":"y","type":"quantitative","axis":{"orient":"left","values":[0,25,50,75,100,125,150,175,200,225],"labels":false,"domain":false,"title":null,"grid":false,"tickSize":5}}}},
{"data":{"name":"boxes"},"transform":[{"filter":"datum.panel == 4"}],
 "mark":{"type":"rect","fill":"white","stroke":"#111","strokeWidth":2},
 "encoding":{"x":{"field":"x1","type":"quantitative"},"x2":{"field":"x2"},"y":{"field":"y1","type":"quantitative","axis":null},"y2":{"field":"y2"}}},
{"data":{"name":"boxes"},"transform":[{"filter":"datum.panel == 4"}],
 "mark":{"type":"text","fontSize":24,"align":"center","baseline":"middle","color":"#222"},
 "encoding":{"x":{"field":"xc","type":"quantitative"},"y":{"field":"yc","type":"quantitative","axis":null},"text":{"field":"label"}}}
]
}
]
}
